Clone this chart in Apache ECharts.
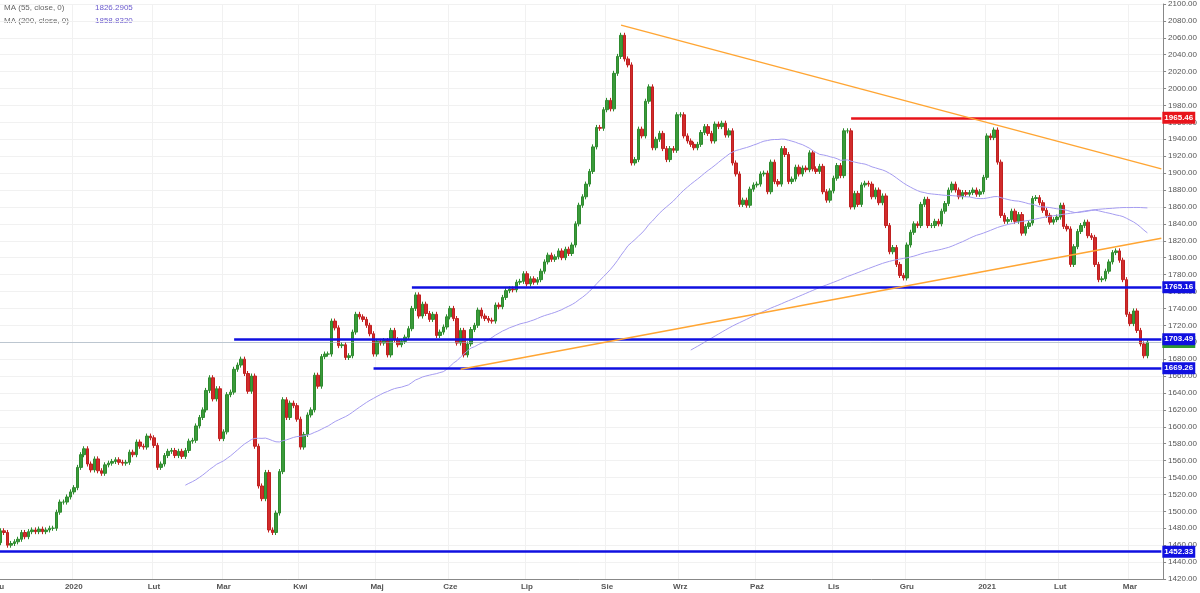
<!DOCTYPE html>
<html><head><meta charset="utf-8">
<script src="https://cdn.jsdelivr.net/npm/echarts@6/dist/echarts.min.js"></script>
<style>html,body{margin:0;padding:0;background:#fff;overflow:hidden}#c{position:absolute;left:-13px;top:0;width:1213px;height:593px}</style>
</head><body><div id="c"></div>
<script>
// daily closes by month
const closes = [].concat(
[1463,1477,1475,1460,1462,1464,1467,1475,1470,1476,1478,1476,1479,1476,1478,1480,1480,1499,1511,1511,1517,1523],
[1528,1552,1567,1574,1556,1549,1562,1548,1545,1555,1557,1559,1561,1558,1557,1558,1570,1567,1582,1577,1576,1589,1587],
[1578,1552,1556,1566,1571,1572,1566,1571,1565,1572,1583,1584,1601,1611,1620,1643,1658,1633,1645,1586],
[1594,1638,1641,1668,1673,1680,1663,1642,1660,1577,1530,1515,1546,1478,1475,1498,1547,1632,1611,1628,1625,1609],
[1576,1591,1614,1620,1661,1648,1683,1686,1686,1725,1717,1696,1697,1682,1684,1712,1733,1730,1727,1720,1710,1686],
[1701,1699,1702,1685,1714,1703,1697,1701,1706,1716,1740,1756,1731,1745,1734,1727,1733,1708,1712,1718,1730],
[1740,1728,1699,1714,1685,1698,1715,1720,1738,1731,1728,1726,1725,1744,1742,1753,1761,1763,1762,1771,1772,1781],
[1769,1775,1771,1774,1784,1795,1803,1798,1801,1808,1800,1810,1805,1815,1840,1862,1872,1887,1902,1931,1954,1953,1975],
[1986,1976,2018,2038,2063,2035,2028,1912,1916,1952,1944,1985,2002,1930,1940,1947,1929,1916,1929,1927,1969],
[1969,1944,1938,1934,1930,1934,1948,1955,1947,1938,1958,1955,1959,1945,1950,1912,1899,1863,1868,1862,1881,1886],
[1887,1899,1900,1878,1913,1890,1887,1929,1922,1890,1893,1907,1899,1906,1904,1924,1905,1902,1908,1878,1868,1879],
[1894,1909,1897,1950,1950,1860,1876,1863,1886,1888,1887,1872,1880,1865,1873,1838,1807,1812,1792,1779,1776],
[1815,1830,1840,1838,1863,1869,1838,1838,1843,1840,1855,1864,1880,1887,1880,1872,1877,1875,1877,1880,1875,1878,1895],
[1944,1942,1951,1913,1850,1843,1845,1855,1843,1851,1829,1837,1841,1870,1871,1865,1856,1850,1842,1845,1848],
[1862,1837,1834,1792,1813,1831,1838,1842,1826,1824,1792,1774,1775,1784,1795,1806,1808,1797,1774,1733],
[1722,1737,1714,1698,1684,1700]
);
const monthNames = ['2020','Lut','Mar','Kwi','Maj','Cze','Lip','Sie','Wrz','Paź','Lis','Gru'];
const yTicks = {min:1420, max:2100, interval:20};

const dates=[]; let d=new Date(Date.UTC(2019,11,2));
while(dates.length<closes.length){const w=d.getUTCDay(); if(w!==0&&w!==6) dates.push(new Date(d)); d=new Date(d.getTime()+86400000);}
const PAD=4;
const cats=dates.map((x,i)=>String(i)); for(let i=0;i<PAD;i++) cats.push('p'+i);
const labelAt={};
dates.forEach((x,i)=>{ if(i===0||x.getUTCMonth()!==dates[i-1].getUTCMonth()){ const m=x.getUTCMonth(); labelAt[i]= m===0 ? String(x.getUTCFullYear()) : (m===11&&x.getUTCFullYear()===2019?'Gru':monthNames[m]); }});
const ohlc=closes.map((c,i)=>{const o=i?closes[i-1]:c-4; return [o,c,Math.min(o,c)-3,Math.max(o,c)+3];});
function ma(n){return closes.map((c,i)=>{if(i<n-1)return '-';let s=0;for(let k=i-n+1;k<=i;k++)s+=closes[k];return +(s/n).toFixed(2);});}
const last=cats.length-1;
function hl(v,from,color,w){return [{coord:[from,v],lineStyle:{color,width:w,type:'solid'}},{coord:[last,v],label:{show:true,position:'end',formatter:v.toFixed(2),backgroundColor:color,color:'#fff',fontSize:8,fontWeight:'bold',padding:[2,2],distance:1}}];}
const chart=echarts.init(document.getElementById('c'));
chart.setOption({
 animation:false,
 grid:{left:0,right:36,top:0,bottom:14},
 xAxis:{type:'category',data:cats,boundaryGap:true,
  axisLine:{lineStyle:{color:'#888'}},axisTick:{show:false},
  axisLabel:{interval:(i)=>labelAt[i]!==undefined,formatter:(v,i)=>labelAt[i]||'',color:'#555',fontSize:8,fontWeight:'bold',margin:4},
  splitLine:{show:true,interval:(i)=>labelAt[i]!==undefined,lineStyle:{color:'#f1f1f1'}}},
 yAxis:{type:'value',position:'right',min:yTicks.min,max:yTicks.max,interval:yTicks.interval,
  axisLine:{show:true,lineStyle:{color:'#888'}},axisTick:{show:true,length:3},
  axisLabel:{formatter:v=>v.toFixed(2),color:'#555',fontSize:8,margin:5},
  splitLine:{lineStyle:{color:'#f1f1f1'}}},
 graphic:[
  {type:'text',left:17,top:4,style:{text:'MA (55, close, 0)',fill:'#666',fontSize:8}},
  {type:'text',left:108,top:4,style:{text:'1826.2905',fill:'#6a5acd',fontSize:8}},
  {type:'text',left:17,top:17,style:{text:'MA (200, close, 0)',fill:'#666',fontSize:8}},
  {type:'text',left:108,top:17,style:{text:'1858.8320',fill:'#6a5acd',fontSize:8}}
 ],
 series:[
  {type:'candlestick',data:ohlc,barWidth:3,
   itemStyle:{color:'#3a9a3a',color0:'#d12b2b',borderColor:'#2e8b2e',borderColor0:'#c02020',borderWidth:1},
   markLine:{symbol:'none',silent:true,label:{show:false},data:[
    [{coord:[0,1700.25],lineStyle:{color:'#9ab',width:0.6,type:'solid'}},{coord:[last,1700.25],label:{show:true,position:'end',formatter:'1700.25',backgroundColor:'#2e9a2e',color:'#fff',fontSize:8,fontWeight:'bold',padding:[2,2],distance:1}}],
    hl(1965.46,245,'#e8141b',2.5),
    hl(1765.16,119,'#1010e0',2.5),
    hl(1703.49,68,'#1010e0',2.5),
    hl(1669.26,108,'#1010e0',2.5),
    hl(1452.33,0,'#1010e0',2.5),
    [{coord:[179,2075],lineStyle:{color:'#ffa533',width:1.5,type:'solid'}},{coord:[last,1905]}],
    [{coord:[133,1668],lineStyle:{color:'#ffa533',width:1.5,type:'solid'}},{coord:[last,1823]}]
   ]}},
  {type:'line',data:ma(55),symbol:'none',lineStyle:{color:'#a59cf0',width:1}},
  {type:'line',data:ma(200),symbol:'none',lineStyle:{color:'#a59cf0',width:1}}
 ]
});
</script></body></html>
